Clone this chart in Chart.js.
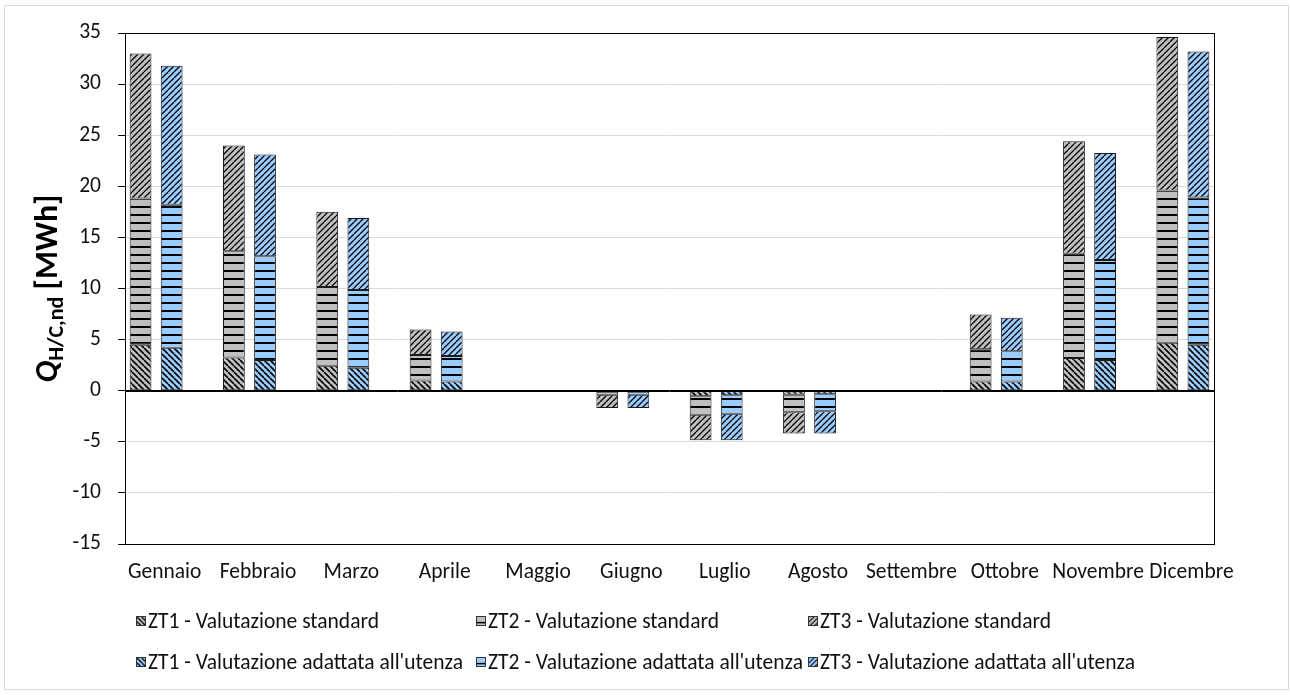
<!DOCTYPE html>
<html>
<head>
<meta charset="utf-8">
<script src="https://cdn.jsdelivr.net/npm/chart.js@4.4.1/dist/chart.umd.min.js"></script>
<style>
  body { margin: 0; background: #fff; }
  #wrap { position: relative; width: 1290px; height: 695px; }
  #legend { position: absolute; left: 0; top: 0; width: 1290px; height: 695px; pointer-events: none;
    font-family: Carlito, Calibri, Lato, sans-serif; font-size: 21.5px; color: #111; }
  .item { position: absolute; display: flex; align-items: center; height: 24px; white-space: nowrap; }
  .item canvas { width: 10px; height: 10px; margin-right: 2px; border: 1px solid #333; box-sizing: border-box; }
</style>
</head>
<body>
<div id="wrap">
  <canvas id="chart" width="1290" height="695"></canvas>
  <div id="legend"></div>
</div>
<script>
const months = ["Gennaio", "Febbraio", "Marzo", "Aprile", "Maggio", "Giugno",
  "Luglio", "Agosto", "Settembre", "Ottobre", "Novembre", "Dicembre"];

// MWh
const stdZT1 = [4.5, 3.25, 2.45, 1.0, 0, -0.1, -0.55, -0.4, 0, 0.9, 3.2, 4.7];
const stdZT2 = [14.3, 10.4, 7.7, 2.5, 0, -0.3, -1.8, -1.7, 0, 3.15, 10.2, 14.9];
const stdZT3 = [14.2, 10.35, 7.35, 2.5, 0, -1.3, -2.5, -2.1, 0, 3.4, 11.0, 15.0];
const adpZT1 = [4.2, 3.0, 2.25, 0.9, 0, -0.1, -0.45, -0.35, 0, 0.9, 3.0, 4.5];
const adpZT2 = [14.0, 10.15, 7.6, 2.5, 0, -0.3, -1.8, -1.65, 0, 2.95, 9.8, 14.4];
const adpZT3 = [13.6, 9.95, 7.05, 2.4, 0, -1.3, -2.6, -2.2, 0, 3.3, 10.45, 14.3];

const seriesNames = [
  "ZT1 - Valutazione standard", "ZT2 - Valutazione standard", "ZT3 - Valutazione standard",
  "ZT1 - Valutazione adattata all'utenza", "ZT2 - Valutazione adattata all'utenza", "ZT3 - Valutazione adattata all'utenza"
];

const FONT = "Carlito, Calibri, Lato, sans-serif";
const GRAY = "#c0c0c0";
const BLUE = "#99ccff";

// hatch patterns like the excel fills
function makePattern(kind, bg) {
  const c = document.createElement("canvas");
  const s = kind === "h" ? 8 : 6;
  c.width = s; c.height = s;
  const g = c.getContext("2d");
  g.fillStyle = bg;
  g.fillRect(0, 0, s, s);
  g.strokeStyle = "#000";
  g.fillStyle = "#000";
  if (kind === "h") {
    g.fillRect(0, 6, s, 2);
  } else {
    g.lineWidth = kind === "down" ? 1.6 : 1.3;
    g.beginPath();
    for (let k = -1; k <= 1; k++) {
      if (kind === "down") { g.moveTo(k * s, 0); g.lineTo(k * s + s, s); }
      else { g.moveTo(k * s, s); g.lineTo(k * s + s, 0); }
    }
    g.stroke();
  }
  return g.createPattern(c, "repeat");
}

const kinds = ["down", "h", "up"];
const fills = [GRAY, GRAY, GRAY, BLUE, BLUE, BLUE];

// 35 slots: std, adapted, gap for each month (no gap after december)
const slotLabels = [];
months.forEach((m, i) => {
  slotLabels.push(m, m);
  if (i < months.length - 1) slotLabels.push("");
});

function toSlots(values, offset) {
  const out = new Array(slotLabels.length).fill(null);
  values.forEach((v, i) => { out[i * 3 + offset] = v; });
  return out;
}

const allSeries = [stdZT1, stdZT2, stdZT3, adpZT1, adpZT2, adpZT3];
const ctx = document.getElementById("chart").getContext("2d");

const datasets = allSeries.map((vals, i) => ({
  label: seriesNames[i],
  data: toSlots(vals, i < 3 ? 0 : 1),
  backgroundColor: makePattern(kinds[i % 3], fills[i]),
  borderColor: "#1a1a1a",
  borderWidth: 1,
  borderSkipped: false,
  barPercentage: 0.7,
  categoryPercentage: 1.0
}));

const frame = {
  id: "frame",
  afterDatasetsDraw(chart) {
    const c = chart.ctx, a = chart.chartArea;
    c.save();
    c.strokeStyle = "#000";
    c.lineWidth = 1;
    c.strokeRect(Math.round(a.left) + 0.5, Math.round(a.top) + 0.5,
      Math.round(a.right - a.left), Math.round(a.bottom - a.top));
    // zero line over the bars
    const y0 = Math.round(chart.scales.y.getPixelForValue(0)) + 0.5;
    c.beginPath();
    c.moveTo(a.left, y0);
    c.lineTo(a.right, y0);
    c.stroke();
    c.restore();
  },
  afterDraw(chart) {
    const c = chart.ctx;
    c.save();
    c.strokeStyle = "#d9d9d9";
    c.lineWidth = 1;
    c.strokeRect(4.5, 5.5, 1284, 684);
    c.restore();
  }
};

const yTitle = {
  id: "yTitle",
  afterDraw(chart) {
    const c = chart.ctx, a = chart.chartArea;
    const parts = [
      { t: "Q", f: "italic bold 32px " + FONT, dy: 0 },
      { t: "H/C,nd", f: "bold 22px " + FONT, dy: 6 },
      { t: " [MWh]", f: "bold 32px " + FONT, dy: 0 }
    ];
    c.save();
    c.translate(46, (a.top + a.bottom) / 2);
    c.rotate(-Math.PI / 2);
    c.fillStyle = "#000";
    c.textBaseline = "alphabetic";
    let total = 0;
    parts.forEach(p => { c.font = p.f; p.w = c.measureText(p.t).width; total += p.w; });
    let x = -total / 2;
    parts.forEach(p => {
      c.font = p.f;
      c.fillText(p.t, x, 11 + p.dy);
      x += p.w;
    });
    c.restore();
  }
};

new Chart(ctx, {
  type: "bar",
  data: { labels: slotLabels, datasets },
  plugins: [frame, yTitle],
  options: {
    responsive: false,
    animation: false,
    layout: { padding: { left: 0, top: 33, right: 76, bottom: 101 } },
    plugins: { legend: { display: false }, tooltip: { enabled: false } },
    scales: {
      x: {
        stacked: true,
        offset: true,
        grid: { display: false, drawTicks: false },
        border: { display: false },
        ticks: {
          autoSkip: false,
          maxRotation: 0,
          padding: 16,
          labelOffset: -7,
          color: "#111",
          font: { family: FONT, size: 21.5 },
          callback: (v, i) => (i % 3 === 1 ? months[(i - 1) / 3] : "")
        },
        afterFit: s => { s.height = 50; }
      },
      y: {
        stacked: true,
        min: -15,
        max: 35,
        ticks: {
          stepSize: 5,
          padding: 17,
          color: "#111",
          font: { family: FONT, size: 21.5 }
        },
        grid: {
          color: c => (c.tick && c.tick.value === 0 ? "#000" : "#d9d9d9"),
          tickColor: "#000",
          tickLength: 7
        },
        border: { display: false },
        afterFit: s => { s.width = 125; }
      }
    }
  }
});

// legend drawn as html, three columns and two rows like the original
const legend = document.getElementById("legend");
const colX = [136, 476, 808];
const rowY = [621, 662];
seriesNames.forEach((name, i) => {
  const item = document.createElement("div");
  item.className = "item";
  item.style.left = colX[i % 3] + "px";
  item.style.top = (rowY[Math.floor(i / 3)] - 12) + "px";
  const box = document.createElement("canvas");
  box.width = 10; box.height = 10;
  const g = box.getContext("2d");
  g.fillStyle = makePattern(kinds[i % 3], fills[i]);
  g.fillRect(0, 0, 10, 10);
  item.appendChild(box);
  const span = document.createElement("span");
  span.textContent = name;
  item.appendChild(span);
  legend.appendChild(item);
});
</script>
</body>
</html>
